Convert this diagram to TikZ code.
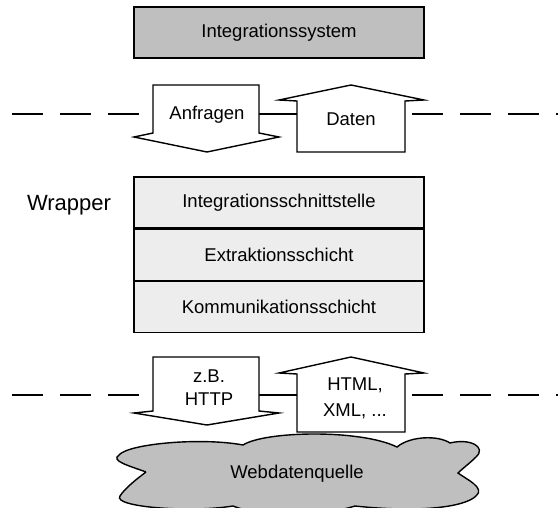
\documentclass[tikz,border=0pt]{standalone}
\usepackage{fontspec}
\setmainfont{Liberation Sans}
\usetikzlibrary{positioning}

\tikzset{
  sysbox/.style={draw, line width=2.2pt, fill=black!25, minimum width=290pt, minimum height=51pt, inner sep=0pt, font=\fontsize{18.5}{22}\selectfont},
  layer/.style={draw, line width=1.4pt, fill=black!7, minimum width=290pt, minimum height=51pt, inner sep=0pt, font=\fontsize{18.5}{22}\selectfont},
  flow/.style={draw, line width=1.4pt, fill=white, line join=miter},
  lbl/.style={align=center, inner sep=0pt, font=\fontsize{18.5}{23}\selectfont},
  sep/.style={line width=1.4pt, dash pattern=on 31pt off 17pt}
}

\begin{document}
\begin{tikzpicture}[x=1pt, y=-1pt]
 \useasboundingbox (0,0) rectangle (558,508);

 % Integrationssystem
 \node[sysbox] (sys) at (279,32.5) {Integrationssystem};

 % upper border
 \coordinate (u1) at (12,114);
 \coordinate (u2) at (153,114);
 \coordinate (u3) at (259,114);
 \coordinate (u4) at (297,114);
 \coordinate (u5) at (412,114);
 \coordinate (u6) at (558,114);
 \draw[sep] (u1) -- (u2);
 \draw[line width=1.4pt] (u3) -- (u4);
 \draw[sep] (u5) -- (u6);

 \draw[flow] (153,85) -- (259,85) -- (259,133) -- (279,137) -- (207,152) -- (134,137) -- (153,133) -- cycle;
 \node[lbl] (req) at (207,115) {Anfragen};
 \draw[flow] (297,152) -- (405,152) -- (405,101) -- (424,100) -- (351,85) -- (279,100) -- (297,101) -- cycle;
 \node[lbl] (dat) at (351,119) {Daten};

 % Wrapper
 \node[lbl, font=\fontsize{22}{26}\selectfont] (wrap) at (69,205) {Wrapper};
 \node[layer] (ifc) at (279,202.5) {Integrationsschnittstelle};
 \node[layer, below=0pt of ifc] (ext) {Extraktionsschicht};
 \node[layer, below=0pt of ext] (com) {Kommunikationsschicht};

 % lower border
 \coordinate (l1) at (12,395);
 \coordinate (l2) at (153,395);
 \coordinate (l3) at (259,395);
 \coordinate (l4) at (297,395);
 \coordinate (l5) at (412,395);
 \coordinate (l6) at (558,395);
 \draw[sep] (l1) -- (l2);
 \draw[line width=1.4pt] (l3) -- (l4);
 \draw[sep] (l5) -- (l6);

 \draw[flow] (153,357) -- (259,357) -- (259,411) -- (279,413) -- (207,425) -- (134,413) -- (153,411) -- cycle;
 \node[lbl] (http) at (209,388) {z.B.\\HTTP};
 \draw[flow] (297,432) -- (405,432) -- (405,374) -- (424,373) -- (351,357) -- (279,373) -- (297,374) -- cycle;
 \node[lbl, font=\fontsize{18.5}{26}\selectfont] (html) at (355,398) {HTML,\\XML, ...};

 % Webdatenquelle
 \draw[line width=1.4pt, fill=black!25]
   (146,472) .. controls (130,466) and (110,461) .. (119,455)
   .. controls (128,444) and (200,437) .. (243,445)
   .. controls (265,431) and (360,429) .. (397,447)
   .. controls (410,436) and (438,435) .. (450,443)
   .. controls (470,438) and (487,447) .. (476,457)
   .. controls (470,463) and (462,469) .. (458,473)
   .. controls (466,479) and (486,488) .. (476,496)
   .. controls (465,507) and (420,513) .. (355,506)
   .. controls (320,517) and (260,517) .. (233,506)
   .. controls (190,513) and (112,507) .. (120,496)
   .. controls (125,488) and (138,478) .. (146,472);
 \node[lbl] (src) at (297,474) {Webdatenquelle};
\end{tikzpicture}
\end{document}
